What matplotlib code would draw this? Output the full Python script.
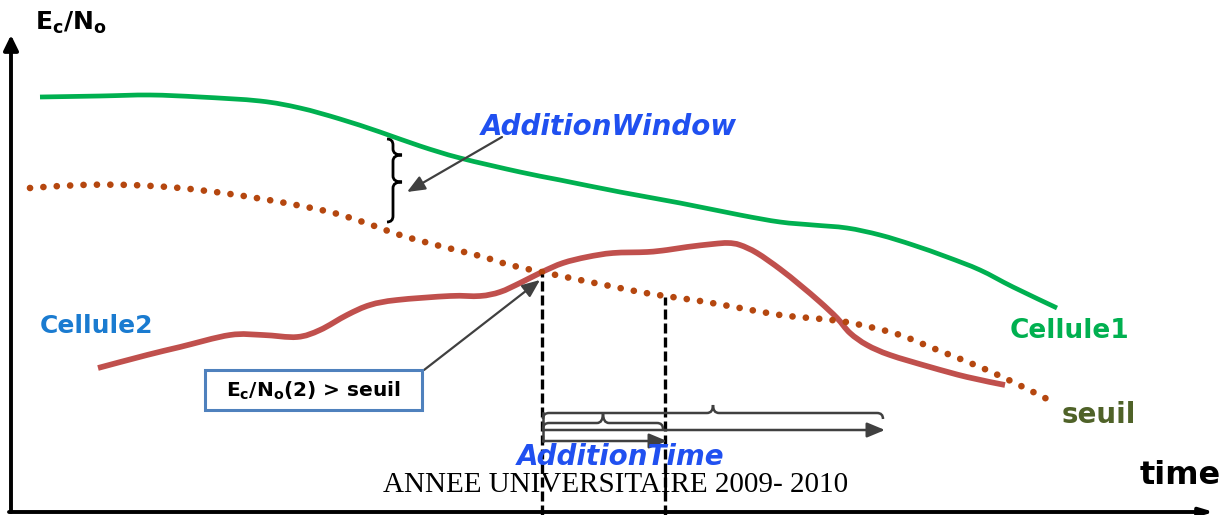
import numpy as np
import matplotlib
matplotlib.use("Agg")
import matplotlib.pyplot as plt
from matplotlib.path import Path
from matplotlib.patches import PathPatch, Rectangle

# ---- signal levels over time (arbitrary units, time in samples) ----
cell1_t = [40, 100, 150, 200, 260, 300, 340, 380, 420, 460, 520, 560, 620, 680, 740,
           780, 813, 847, 880, 913, 947, 980, 1013, 1057]
cell1_lvl = [418, 419, 420, 418, 414, 407, 396, 383, 369, 357, 343, 335, 323, 312, 300,
             293, 290, 287, 280, 270, 258, 245, 228, 207]

seuil_t = [30, 80, 130, 180, 230, 280, 330, 363, 400, 440, 480, 510, 542, 580, 610,
           640, 665, 700, 740, 780, 810, 840, 870, 900, 940, 980, 1015, 1049]
seuil_lvl = [327, 330, 330, 327, 321, 313, 303, 293, 280, 269, 259, 250, 243, 235, 229,
             223, 219, 214, 207, 200, 197, 194, 188, 180, 164, 148, 132, 115]

cell2_t = [98, 147, 180, 230, 263, 297, 320, 347, 370, 397, 450, 480, 500, 520, 542,
           563, 587, 613, 647, 667, 687, 713, 728, 740, 757, 780, 800, 820, 837, 850,
           867, 890, 930, 967, 1005]
cell2_lvl = [147, 160, 168, 180, 180, 178, 185, 200, 210, 215, 219, 219, 223, 232, 243,
             252, 258, 262, 263, 265, 268, 271, 272, 270, 262, 246, 230, 213, 197, 182,
             170, 160, 148, 138, 130]

# event times: Cellule2 crosses the threshold, then the addition time elapses
t_cross = 542
t_add = 665
lvl_cross = 243
lvl_add = 219

GREEN = "#00b050"
RED = "#c0504d"
DOTS = "#b5470f"
BLUE = "#2050f0"
DARK = "#404040"

plt.rcParams["mathtext.fontset"] = "dejavusans"

fig = plt.figure(figsize=(12.3, 5.15), dpi=100)
ax = fig.add_axes([0, 0, 1, 1])
ax.set_xlim(0, 1230)
ax.set_ylim(0, 515)
ax.axis("off")


def smooth_path(xs, ys):
    """Bezier path passing through every sample (Catmull-Rom tangents)."""
    pts = np.column_stack([xs, ys]).astype(float)
    n = len(pts)
    verts = [pts[0]]
    codes = [Path.MOVETO]
    for i in range(n - 1):
        p0 = pts[i - 1] if i > 0 else pts[i]
        p1, p2 = pts[i], pts[i + 1]
        p3 = pts[i + 2] if i + 2 < n else pts[i + 1]
        verts += [p1 + (p2 - p0) / 6.0, p2 - (p3 - p1) / 6.0, p2]
        codes += [Path.CURVE4] * 3
    return Path(verts, codes)


# curves
ax.add_patch(PathPatch(smooth_path(seuil_t, seuil_lvl), fill=False, edgecolor=DOTS,
                       lw=4.8, linestyle=(0, (0.01, 2.0)), capstyle="round",
                       zorder=3))
ax.add_patch(PathPatch(smooth_path(cell1_t, cell1_lvl), fill=False, edgecolor=GREEN,
                       lw=3.4, capstyle="butt", zorder=2))
ax.add_patch(PathPatch(smooth_path(cell2_t, cell2_lvl), fill=False, edgecolor=RED,
                       lw=4.1, capstyle="butt", zorder=2))

# axes with arrow heads
ax.annotate("", xy=(11, 480), xytext=(11, 3),
            arrowprops=dict(arrowstyle="-|>,head_length=0.45,head_width=0.22",
                            lw=2.8, color="black", mutation_scale=20,
                            shrinkA=0, shrinkB=0))
ax.annotate("", xy=(1214, 3), xytext=(9, 3),
            arrowprops=dict(arrowstyle="-|>,head_length=0.4,head_width=0.12",
                            lw=2.8, color="black", mutation_scale=20,
                            shrinkA=0, shrinkB=0))

# dashed event markers
ax.plot([t_cross, t_cross], [0, lvl_cross - 2], color="black", lw=2.4,
        linestyle=(0, (3, 1.2)), zorder=4)
ax.plot([t_add, t_add], [0, lvl_add - 1], color="black", lw=2.4,
        linestyle=(0, (3, 1.2)), zorder=4)


def hbrace(x0, x1, y, cusp, d, h, lw=1.8, color=DARK):
    verts = [(x0, y - h), (x0, y), (x0 + h, y),
             (cusp - h, y), (cusp, y), (cusp, y + d),
             (cusp, y), (cusp + h, y),
             (x1 - h, y), (x1, y), (x1, y - h)]
    codes = [Path.MOVETO, Path.CURVE3, Path.CURVE3,
             Path.LINETO, Path.CURVE3, Path.CURVE3,
             Path.CURVE3, Path.CURVE3,
             Path.LINETO, Path.CURVE3, Path.CURVE3]
    ax.add_patch(PathPatch(Path(verts, codes), fill=False, lw=lw,
                           edgecolor=color, zorder=5))


def vbrace(x, y_top, y_bot, cusps, d, h, lw=1.8, color="black"):
    verts = [(x - h, y_top), (x, y_top), (x, y_top - h)]
    codes = [Path.MOVETO, Path.CURVE3, Path.CURVE3]
    for c in cusps:
        verts += [(x, c + h), (x, c), (x + d, c), (x, c), (x, c - h)]
        codes += [Path.LINETO, Path.CURVE3, Path.CURVE3, Path.CURVE3, Path.CURVE3]
    verts += [(x, y_bot + h), (x, y_bot), (x - h, y_bot)]
    codes += [Path.LINETO, Path.CURVE3, Path.CURVE3]
    ax.add_patch(PathPatch(Path(verts, codes), fill=False, lw=lw,
                           edgecolor=color, zorder=5))


# addition window brace between the two levels
vbrace(393, 376, 293, [360, 333], 9, 6, lw=2.0)

# addition-time braces and arrows
hbrace(t_cross + 1, 883, 102, 713, 8, 6)
hbrace(t_cross + 1, t_add - 2, 92, 603, 10, 6)
ax.plot([t_cross + 1, t_cross + 1], [74, 102], color=DARK, lw=1.8, zorder=5)
ax.annotate("", xy=(t_add + 2, 74), xytext=(t_cross + 1, 74),
            arrowprops=dict(arrowstyle="-|>,head_length=0.6,head_width=0.25",
                            lw=1.8, color=DARK, mutation_scale=18,
                            shrinkA=0, shrinkB=0), zorder=5)
ax.annotate("", xy=(885, 85), xytext=(t_cross + 1, 85),
            arrowprops=dict(arrowstyle="-|>,head_length=0.6,head_width=0.25",
                            lw=1.8, color=DARK, mutation_scale=18,
                            shrinkA=0, shrinkB=0), zorder=5)

# pointers
ax.annotate("", xy=(407, 323), xytext=(502, 378),
            arrowprops=dict(arrowstyle="-|>,head_length=0.6,head_width=0.25",
                            lw=1.6, color=DARK, mutation_scale=18,
                            shrinkA=0, shrinkB=0), zorder=6)
ax.annotate("", xy=(t_cross - 2, lvl_cross - 8), xytext=(424, 145),
            arrowprops=dict(arrowstyle="-|>,head_length=0.6,head_width=0.25",
                            lw=1.6, color=DARK, mutation_scale=18,
                            shrinkA=0, shrinkB=0), zorder=6)

# condition box
ax.add_patch(Rectangle((205, 105), 217, 40, facecolor="white",
                       edgecolor="#4f81bd", lw=2.2, zorder=6))
ax.text(313.5, 124, r"$\mathbf{E_c/N_o(2)}$ > seuil", ha="center", va="center",
        fontsize=14.5, fontweight="bold", color="black", zorder=7)

# labels
ax.text(35, 485, r"$\mathbf{E_c/N_o}$", fontsize=18, color="black",
        ha="left", va="baseline")
ax.text(609, 380, "AdditionWindow", fontsize=20, color=BLUE, fontweight="bold",
        fontstyle="italic", ha="center", va="baseline")
ax.text(621, 50, "AdditionTime", fontsize=20, color=BLUE, fontweight="bold",
        fontstyle="italic", ha="center", va="baseline", zorder=8)
ax.text(40, 182, "Cellule2", fontsize=18, color="#1a7bd0", fontweight="bold",
        ha="left", va="baseline")
ax.text(1010, 177, "Cellule1", fontsize=19, color=GREEN, fontweight="bold",
        ha="left", va="baseline")
ax.text(1062, 92, "seuil", fontsize=20, color="#4f6228", fontweight="bold",
        ha="left", va="baseline")
ax.text(1140, 31, "time", fontsize=23, color="black", fontweight="bold",
        ha="left", va="baseline")
ax.text(616, 23, "ANNEE UNIVERSITAIRE 2009- 2010", fontsize=21,
        family="Liberation Serif", color="black", ha="center", va="baseline",
        zorder=7)

fig.savefig("out.png", dpi=100, facecolor="white")
